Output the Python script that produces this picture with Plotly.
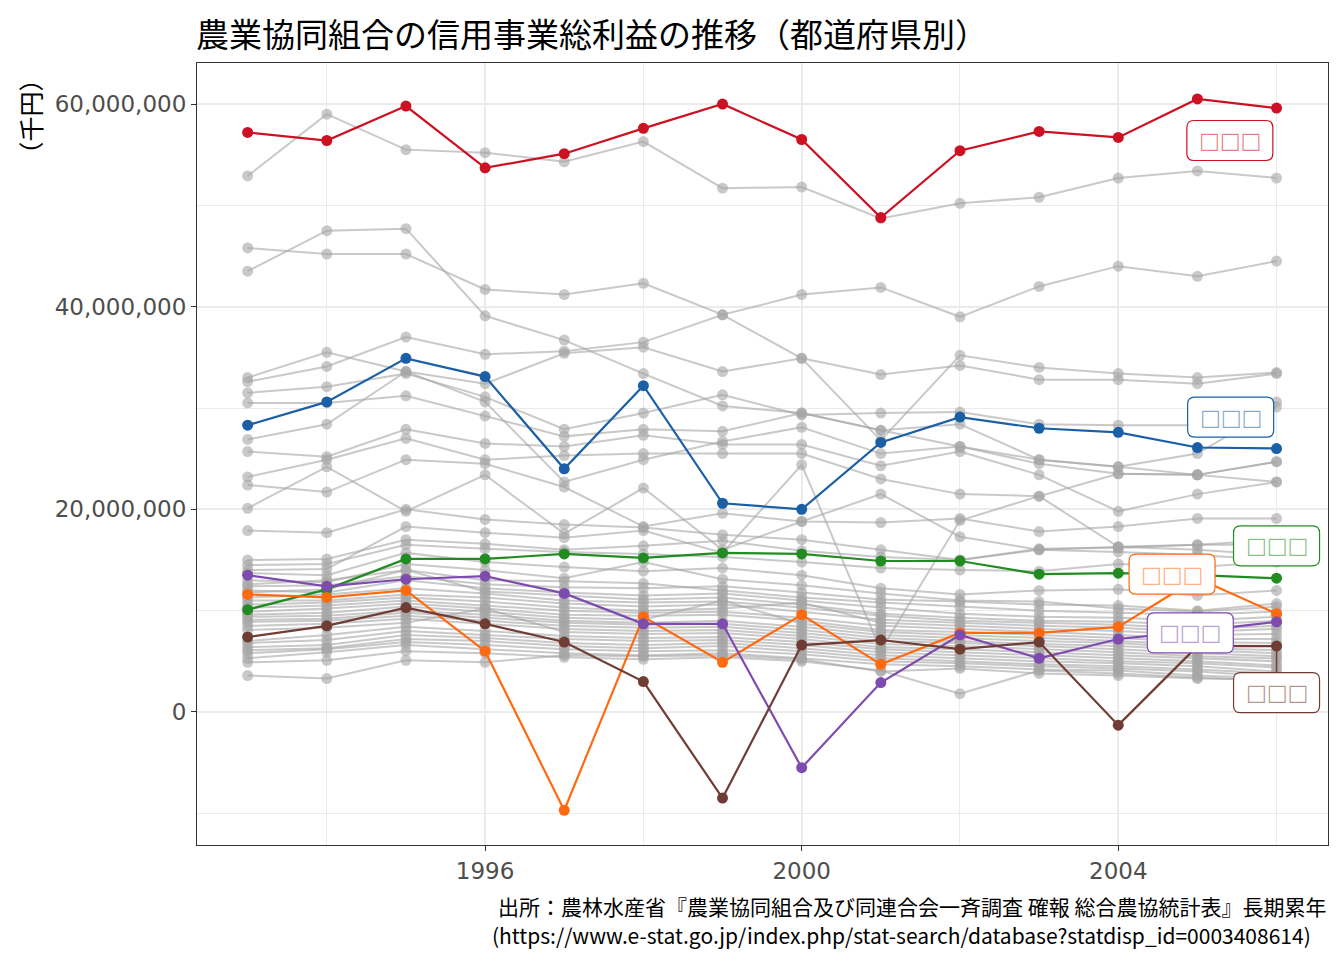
import plotly.graph_objects as go

# years and values (million 千円)
years = list(range(1993, 2007))

# highlighted prefectures (labels are unreadable boxes in the source picture)
red = [57.2, 56.4, 59.8, 53.7, 55.1, 57.6, 60.0, 56.5, 48.8, 55.4, 57.3, 56.7, 60.5, 59.6]
blue = [28.3, 30.6, 34.9, 33.1, 24.0, 32.2, 20.6, 20.0, 26.6, 29.1, 28.0, 27.6, 26.1, 26.0]
green = [10.1, 12.1, 15.1, 15.1, 15.6, 15.2, 15.7, 15.6, 14.9, 14.9, 13.6, 13.7, 13.5, 13.2]
orange = [11.6, 11.3, 12.0, 6.0, -9.7, 9.4, 4.9, 9.6, 4.7, 7.8, 7.8, 8.4, 13.2, 9.7]
purple = [13.5, 12.4, 13.1, 13.4, 11.7, 8.7, 8.7, -5.5, 2.9, 7.6, 5.3, 7.2, 8.0, 8.9]
brown = [7.4, 8.5, 10.3, 8.7, 6.9, 3.0, -8.5, 6.6, 7.1, 6.2, 6.9, -1.3, 6.5, 6.5]

hl_names = ["□□□"] * 6

# the other prefectures (grey)
others = [
    [52.9, 59.0, 55.5, 55.2, 54.3, 56.3, 51.7, 51.8, 48.7, 50.2, 50.8, 52.7, 53.4, 52.7],
    [45.8, 45.2, 45.2, 41.7, 41.2, 42.3, 39.2, 41.2, 41.9, 39.0, 42.0, 44.0, 43.0, 44.5],
    [43.5, 47.5, 47.7, 39.1, 36.7, 33.4, 30.2, 29.5, 27.8, 26.2, 24.9, 24.2, 23.4, 22.7],
    [32.6, 34.1, 37.0, 35.3, 35.6, 36.5, 39.2, 34.9, 33.3, 34.2, 32.8, 32.8, 32.4, 33.4],
    [33.0, 35.5, 33.6, 32.4, 35.4, 36.0, 33.6, 34.9, 26.8, 35.2, 34.0, 33.4, 33.0, 33.5],
    [31.5, 32.1, 33.4, 31.1, 27.9, 29.5, 31.3, 29.3, 29.5, 29.6, 28.4, 28.3, 28.3, 30.6],
    [30.5, 30.5, 31.2, 29.2, 27.2, 27.9, 27.7, 29.5, 27.8, 28.4, 24.9, 24.2, 25.5, 30.1],
    [26.9, 28.4, 33.6, 30.6, 22.7, 24.9, 26.7, 28.1, 25.5, 26.2, 24.5, 23.5, 23.4, 24.7],
    [25.7, 25.2, 27.9, 26.5, 26.2, 27.3, 26.4, 26.4, 24.3, 25.7, 23.4, 19.8, 21.5, 22.7],
    [23.2, 24.9, 27.0, 24.9, 25.3, 25.5, 25.5, 25.5, 23.0, 21.5, 21.3, 23.5, 23.4, 24.7],
    [22.4, 21.7, 24.9, 24.5, 22.2, 18.3, 19.6, 18.8, 18.7, 19.1, 17.8, 18.3, 19.1, 19.1],
    [20.1, 24.2, 19.8, 23.4, 17.6, 22.1, 16.0, 18.8, 21.5, 17.3, 16.0, 16.3, 16.5, 16.5],
    [17.9, 17.7, 20.0, 19.0, 18.5, 18.2, 17.5, 17.0, 16.0, 15.0, 16.0, 15.8, 15.5, 15.0],
    [15.0, 15.1, 17.0, 16.6, 16.0, 16.4, 16.9, 15.9, 15.3, 15.0, 16.1, 16.2, 16.5, 17.0],
    [14.5, 14.6, 16.5, 16.1, 15.8, 15.6, 15.3, 14.8, 14.2, 14.0, 13.9, 14.6, 14.3, 14.8],
    [14.0, 14.1, 18.3, 17.7, 17.2, 17.9, 15.7, 24.4, 6.1, 18.9, 21.3, 16.3, 16.0, 15.5],
    [13.7, 13.5, 15.7, 14.8, 14.3, 13.9, 14.2, 13.5, 12.2, 11.6, 12.0, 12.1, 11.5, 12.0],
    [13.0, 12.8, 14.6, 14.0, 13.2, 14.8, 13.1, 12.5, 11.7, 11.0, 10.9, 10.2, 9.9, 10.4],
    [12.6, 13.0, 14.0, 13.0, 12.9, 12.7, 12.0, 11.3, 10.8, 10.4, 10.0, 9.8, 9.6, 9.9],
    [12.4, 12.5, 13.4, 12.6, 12.3, 12.2, 12.4, 11.8, 11.1, 10.9, 10.6, 10.5, 10.0, 10.7],
    [12.0, 11.8, 13.0, 12.2, 11.8, 11.5, 11.7, 11.0, 10.3, 9.7, 9.4, 9.3, 9.0, 9.4],
    [11.8, 12.1, 14.0, 11.9, 11.5, 11.1, 11.3, 10.6, 9.7, 9.3, 9.0, 8.9, 8.6, 9.0],
    [11.3, 11.6, 12.2, 11.7, 11.0, 10.8, 10.9, 10.3, 9.5, 9.0, 8.8, 8.6, 8.2, 8.5],
    [11.0, 11.0, 11.6, 11.3, 10.7, 10.4, 10.6, 9.9, 9.1, 8.8, 8.5, 8.3, 7.9, 8.2],
    [10.6, 10.8, 11.3, 10.9, 10.3, 10.0, 10.2, 10.8, 8.8, 8.5, 8.2, 8.0, 7.6, 7.7],
    [10.3, 10.5, 11.0, 10.5, 10.0, 9.8, 9.9, 9.3, 8.5, 8.2, 7.9, 7.6, 7.2, 7.2],
    [9.9, 10.2, 10.7, 10.2, 9.6, 9.5, 9.6, 9.0, 8.1, 7.9, 7.6, 7.3, 6.9, 6.8],
    [9.6, 9.8, 10.4, 9.9, 9.3, 9.1, 11.0, 8.7, 7.9, 7.6, 7.3, 7.0, 6.6, 6.5],
    [9.4, 9.5, 10.0, 9.6, 9.0, 8.8, 9.0, 8.4, 7.6, 7.3, 7.0, 6.8, 6.3, 6.1],
    [9.1, 9.2, 9.8, 9.3, 8.8, 8.6, 8.7, 8.1, 7.3, 7.0, 6.7, 6.5, 6.1, 5.8],
    [8.9, 9.0, 9.5, 9.0, 8.5, 8.3, 8.4, 7.8, 7.0, 6.8, 6.5, 6.2, 5.8, 5.5],
    [8.5, 8.7, 9.2, 8.7, 8.2, 8.0, 8.1, 7.5, 6.7, 6.5, 6.2, 5.9, 5.5, 5.3],
    [8.1, 8.3, 8.8, 10.2, 7.9, 7.7, 7.8, 7.2, 6.4, 6.2, 5.9, 5.6, 5.3, 5.0],
    [7.0, 7.6, 8.4, 8.0, 7.5, 7.3, 7.4, 6.9, 6.2, 5.9, 5.6, 5.3, 5.0, 4.6],
    [6.8, 7.1, 8.0, 7.6, 7.2, 7.0, 7.1, 6.6, 5.9, 5.6, 5.3, 5.0, 4.8, 4.4],
    [6.4, 6.6, 7.6, 7.3, 6.8, 6.6, 6.8, 6.3, 5.6, 5.3, 5.0, 4.8, 4.5, 4.0],
    [6.1, 6.3, 7.2, 7.0, 6.5, 6.3, 6.5, 6.0, 5.3, 5.0, 4.7, 4.5, 4.2, 3.8],
    [5.8, 6.2, 6.9, 6.6, 6.2, 6.0, 6.1, 5.7, 5.0, 4.8, 4.5, 4.3, 4.0, 3.5],
    [5.3, 5.9, 6.6, 6.2, 5.8, 5.6, 5.8, 5.3, 4.7, 4.5, 4.2, 4.1, 3.6, 3.3],
    [4.9, 5.1, 6.0, 5.8, 5.4, 5.2, 5.4, 5.0, 4.1, 1.8, 4.1, 3.8, 3.4, 3.1],
    [3.6, 3.3, 5.1, 4.9, 5.6, 5.5, 5.6, 5.2, 4.0, 4.3, 3.8, 3.6, 3.3, 3.2],
]

y_ticks = [0, 20e6, 40e6, 60e6]
x_ticks = [1996, 2000, 2004]

title = "農業協同組合の信用事業総利益の推移（都道府県別）"
caption1 = "出所：農林水産省『農業協同組合及び同連合会一斉調査 確報 総合農協統計表』長期累年"
caption2 = "(https://www.e-stat.go.jp/index.php/stat-search/database?statdisp_id=0003408614)"

def m(vals):
    return [v * 1e6 for v in vals]

fig = go.Figure()

for vals in others:
    fig.add_trace(go.Scatter(
        x=years, y=m(vals), mode="lines+markers",
        line=dict(color="rgba(165,165,165,0.6)", width=2),
        marker=dict(color="rgba(165,165,165,0.6)", size=11),
        showlegend=False, hoverinfo="skip"))

highlight = [
    (red, "#CC1122"),
    (blue, "#1B5FA6"),
    (green, "#228B22"),
    (orange, "#FF6A10"),
    (purple, "#7E4BAE"),
    (brown, "#6F3D34"),
]
for vals, col in highlight:
    fig.add_trace(go.Scatter(
        x=years, y=m(vals), mode="lines+markers",
        line=dict(color=col, width=2.2),
        marker=dict(color=col, size=11),
        showlegend=False))

# label boxes (ggrepel style)
label_pos = [(2005.41, 56.4), (2005.42, 29.1), (2006.0, 16.4),
             (2004.68, 13.6), (2004.91, 7.8), (2006.0, 1.9)]

def rounded(w, h, r):
    x0, x1, y0, y1 = -w / 2, w / 2, -h / 2, h / 2
    return (f"M {x0+r},{y0} L {x1-r},{y0} Q {x1},{y0} {x1},{y0+r} "
            f"L {x1},{y1-r} Q {x1},{y1} {x1-r},{y1} L {x0+r},{y1} "
            f"Q {x0},{y1} {x0},{y1-r} L {x0},{y0+r} Q {x0},{y0} {x0+r},{y0} Z")

def fade(hexcol, a):
    r, g, b = int(hexcol[1:3], 16), int(hexcol[3:5], 16), int(hexcol[5:7], 16)
    return f"rgba({r},{g},{b},{a})"

shapes = []
annotations = []
# connector for the brown label
shapes.append(dict(type="line", xref="x", yref="y", x0=2006, x1=2006,
                   y0=brown[-1] * 1e6, y1=label_pos[5][1] * 1e6,
                   line=dict(color="#6F3D34", width=1.5)))
for (lx, ly), (vals, col), name in zip(label_pos, highlight, hl_names):
    shapes.append(dict(type="path", xref="x", yref="y",
                       xsizemode="pixel", ysizemode="pixel",
                       xanchor=lx, yanchor=ly * 1e6,
                       path=rounded(86, 40, 7), fillcolor="white",
                       line=dict(color=col, width=1.2)))
    annotations.append(dict(x=lx, y=ly * 1e6, xref="x", yref="y", text=name,
                            showarrow=False,
                            font=dict(family="DejaVu Sans", size=22, color=fade(col, 0.55))))

annotations += [
    # title placed as text above the panel
    dict(text=title, xref="paper", yref="paper", x=-0.0025, y=1.039,
         xanchor="left", yanchor="middle", showarrow=False,
         font=dict(family="Noto Sans CJK JP", size=33, color="black")),
    dict(text=caption1, xref="paper", yref="paper", x=1.0, y=-0.0775,
         xanchor="right", yanchor="middle", showarrow=False,
         font=dict(family="Noto Sans CJK JP", size=21, color="black")),
    dict(text=caption2, xref="paper", yref="paper", x=0.987, y=-0.115,
         xanchor="right", yanchor="middle", showarrow=False,
         font=dict(family="Noto Sans CJK JP", size=21, color="black")),
    dict(text="（千円）", xref="paper", yref="paper", x=-0.148, y=0.931,
         xanchor="center", yanchor="middle", textangle=-90, showarrow=False,
         font=dict(family="Noto Sans CJK JP", size=25, color="black")),
]

axis_common = dict(
    showline=True, mirror=True, linecolor="#333333", linewidth=1.1,
    ticks="outside", ticklen=5, tickcolor="#333333", tickwidth=1.1,
    showgrid=True, gridcolor="#EBEBEB", gridwidth=1.6, zeroline=False,
    tickfont=dict(family="DejaVu Sans", size=23, color="#4D4D4D"),
)

# the page puts the figure 8px in from the top-left corner
fig.update_layout(
    width=1336, height=952, autosize=False,
    margin=dict(l=189, r=16, t=55, b=115),
    paper_bgcolor="white", plot_bgcolor="white",
    xaxis=dict(range=[1992.36, 2006.65], tickvals=x_ticks,
               minor=dict(tickvals=[1994, 1998, 2002, 2006], showgrid=True,
                          gridcolor="#EBEBEB", gridwidth=0.9, ticks=""),
               **axis_common),
    yaxis=dict(range=[-13.13e6, 64.05e6], tickvals=y_ticks, tickformat=",",
               minor=dict(tickvals=[-10e6, 10e6, 30e6, 50e6], showgrid=True,
                          gridcolor="#EBEBEB", gridwidth=0.9, ticks=""),
               **axis_common),
    shapes=shapes,
    annotations=annotations,
    showlegend=False,
)

fig.write_html("out.html")
